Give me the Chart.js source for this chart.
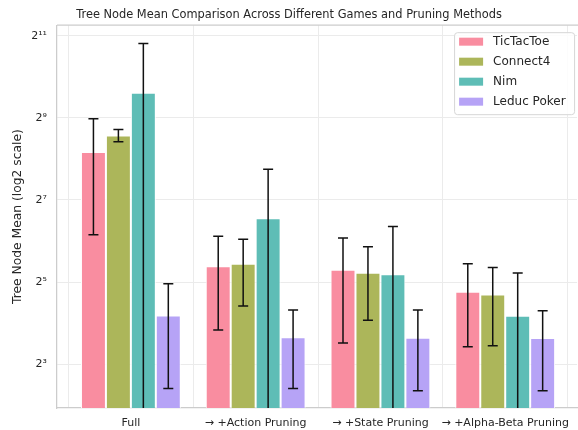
<!DOCTYPE html>
<html>
<head>
<meta charset="utf-8">
<script src="https://cdn.jsdelivr.net/npm/chart.js@4.4.1/dist/chart.umd.min.js"></script>
<style>
  html, body { margin: 0; padding: 0; background: #ffffff; }
  #wrap { width: 578px; height: 430px; }
</style>
</head>
<body>
<div id="wrap"><canvas id="chart" width="578" height="430"></canvas></div>
<script>
// Pruning stages on the x axis
const categories = ['Full', '\u2192 +Action Pruning', '\u2192 +State Pruning', '\u2192 +Alpha-Beta Pruning'];

// Mean tree-node counts per game, one value per pruning stage
const ticTacToeMean = [288, 41.8, 39.4, 27.1];
const connect4Mean  = [381, 43.6, 37.4, 25.9];
const nimMean       = [783, 94, 36.5, 18.1];
const leducMean     = [18.2, 12.6, 12.5, 12.4];

// Standard deviations (error bars)
const ticTacToeStd = [217, 27.6, 28.0, 16.4];
const connect4Std  = [39, 22.3, 20.6, 15.0];
const nimStd       = [1019, 121, 45.1, 19.2];
const leducStd     = [12.9, 7.3, 7.4, 7.3];

// Log2 axis ticks and their labels
const yTickValues = [8, 32, 128, 512, 2048];
const yTickLabels = ['2\u00B3', '2\u2075', '2\u2077', '2\u2079', '2\u00B9\u00B9'];

const seriesNames = ['TicTacToe', 'Connect4', 'Nim', 'Leduc Poker'];
const seriesMeans = [ticTacToeMean, connect4Mean, nimMean, leducMean];
const seriesStds  = [ticTacToeStd, connect4Std, nimStd, leducStd];
const seriesColors = ['#f98da0', '#acb65a', '#5ebdb6', '#b6a3f6'];

const FONT = "'DejaVu Sans', sans-serif";
const TEXT = '#262626';

const datasets = seriesNames.map((name, s) => ({
  label: name,
  data: seriesMeans[s].map((v, i) => ({ x: i, y: v })),
  stds: seriesStds[s],
  backgroundColor: seriesColors[s],
  borderColor: '#ffffff',
  borderWidth: 1,
  categoryPercentage: 0.8,
  barPercentage: 1.0
}));

// Axes frame (top spine) drawn under the bars
const framePlugin = {
  id: 'frame',
  beforeDatasetsDraw(chart) {
    const { ctx, chartArea: a } = chart;
    ctx.save();
    ctx.strokeStyle = '#cccccc';
    ctx.lineWidth = 1.25;
    ctx.beginPath();
    ctx.moveTo(a.left, a.top);
    ctx.lineTo(a.right + 2, a.top);
    ctx.stroke();
    ctx.restore();
  }
};

// Error bars: mean ± std, clipped at the bottom of the log axis
const errorBarPlugin = {
  id: 'errorBars',
  afterDatasetsDraw(chart) {
    const { ctx, chartArea: a } = chart;
    const y = chart.scales.y;
    ctx.save();
    ctx.strokeStyle = '#111111';
    ctx.lineWidth = 1.5;
    chart.data.datasets.forEach((ds, di) => {
      const meta = chart.getDatasetMeta(di);
      meta.data.forEach((bar, i) => {
        const m = ds.data[i].y;
        const sd = ds.stds[i];
        const hi = m + sd;
        const lo = m - sd;
        const yHi = y.getPixelForValue(hi);
        const loVisible = lo > 0 && y.getPixelForValue(lo) < a.bottom;
        const yLo = loVisible ? y.getPixelForValue(lo) : a.bottom;
        const x = bar.x;
        const cap = 5;
        ctx.beginPath();
        ctx.moveTo(x, yHi);
        ctx.lineTo(x, yLo);
        ctx.moveTo(x - cap, yHi);
        ctx.lineTo(x + cap, yHi);
        if (loVisible) {
          ctx.moveTo(x - cap, yLo);
          ctx.lineTo(x + cap, yLo);
        }
        ctx.stroke();
      });
    });
    ctx.restore();
  }
};

// Legend box in the upper right corner of the plot
const legendPlugin = {
  id: 'boxLegend',
  afterDraw(chart) {
    const { ctx, chartArea: a } = chart;
    const bx = a.right - 123, by = a.top + 7, bw = 120, bh = 82, r = 3;
    ctx.save();
    ctx.fillStyle = 'rgba(255,255,255,0.85)';
    ctx.strokeStyle = '#d6d6d6';
    ctx.lineWidth = 1;
    ctx.beginPath();
    ctx.roundRect(bx + 0.5, by + 0.5, bw, bh, r);
    ctx.fill();
    ctx.stroke();
    ctx.font = '12px ' + FONT;
    ctx.textBaseline = 'middle';
    ctx.textAlign = 'left';
    chart.data.datasets.forEach((ds, i) => {
      const cy = by + 9.5 + i * 20;
      ctx.fillStyle = ds.backgroundColor;
      ctx.fillRect(bx + 5, cy - 4, 24, 8);
      ctx.fillStyle = TEXT;
      ctx.fillText(ds.label, bx + 39, cy + 0.5);
    });
    ctx.restore();
  }
};

new Chart(document.getElementById('chart'), {
  type: 'bar',
  data: { datasets },
  options: {
    responsive: false,
    animation: false,
    devicePixelRatio: 1,
    layout: { padding: { left: 0, right: 0, top: 0, bottom: 0 } },
    plugins: {
      legend: { display: false },
      tooltip: { enabled: false },
      title: {
        display: true,
        text: 'Tree Node Mean Comparison Across Different Games and Pruning Methods',
        color: TEXT,
        font: { family: FONT, size: 11.4, weight: 'normal', lineHeight: 1.2 },
        padding: { top: 8.5, bottom: 3 }
      }
    },
    scales: {
      x: {
        type: 'linear',
        min: -0.592,
        max: 3.576,
        offset: false,
        afterFit(scale) { scale.height = 22; },
        ticks: {
          stepSize: 1,
          includeBounds: false,
          autoSkip: false,
          maxRotation: 0,
          padding: 9,
          color: TEXT,
          font: { family: FONT, size: 11 },
          callback: (v) => (Number.isInteger(v) && categories[v] !== undefined) ? categories[v] : ''
        },
        grid: { color: '#ebebeb', lineWidth: 1, drawTicks: false },
        border: { display: true, color: '#cccccc', width: 1.25 }
      },
      y: {
        type: 'logarithmic',
        min: Math.pow(2, 1.929),
        max: Math.pow(2, 11.26),
        afterFit(scale) { scale.width = 57; },
        afterBuildTicks(scale) { scale.ticks = yTickValues.map(v => ({ value: v })); },
        ticks: {
          padding: 10,
          color: TEXT,
          font: { family: FONT, size: 11 },
          callback: (v) => {
            const k = yTickValues.indexOf(v);
            return k >= 0 ? yTickLabels[k] : '';
          }
        },
        title: {
          display: true,
          text: 'Tree Node Mean (log2 scale)',
          color: TEXT,
          font: { family: FONT, size: 12.3 },
          padding: { top: 10, bottom: 0 }
        },
        grid: { color: '#ebebeb', lineWidth: 1, drawTicks: false },
        border: { display: true, color: '#cccccc', width: 1.25 }
      }
    }
  },
  plugins: [framePlugin, errorBarPlugin, legendPlugin]
});
</script>
</body>
</html>
